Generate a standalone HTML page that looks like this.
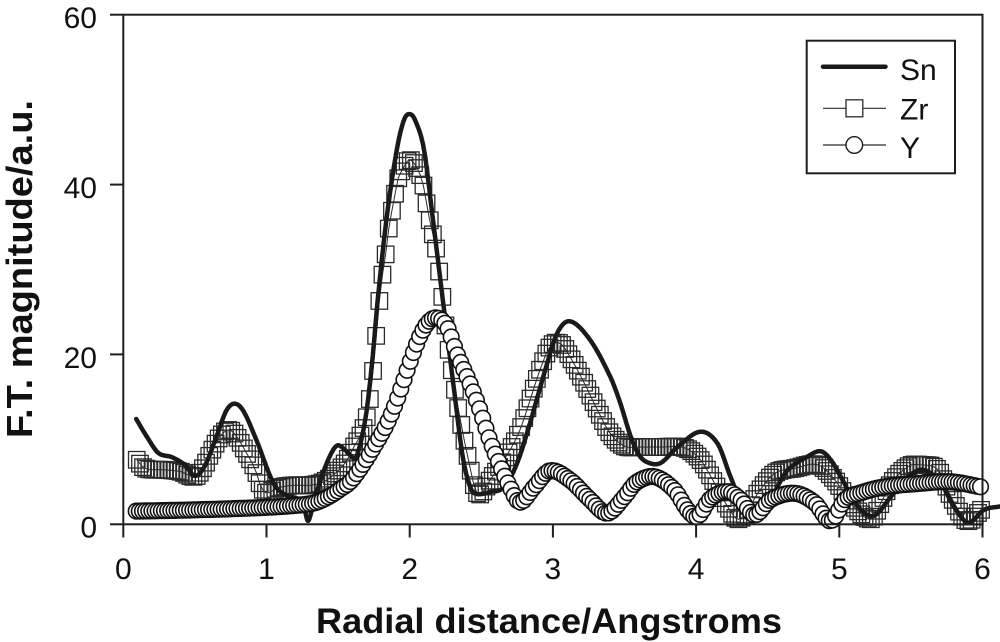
<!DOCTYPE html>
<html><head><meta charset="utf-8">
<style>
html,body{margin:0;padding:0;background:#fff;width:1000px;height:642px;overflow:hidden;}
svg{display:block;}
text{font-family:"Liberation Sans",Arial,sans-serif;fill:#111;}
</style></head>
<body>
<svg id="c" width="1000" height="642" viewBox="0 0 1000 642" xmlns="http://www.w3.org/2000/svg">
<rect x="0" y="0" width="1000" height="642" fill="#fff"/>
<g id="zr"></g>
<g id="sn"></g>
<g id="yy"></g>
<!-- frame -->
<g stroke="#1e1e1e" stroke-width="2" fill="none">
<rect x="123.3" y="14.7" width="859.2" height="509.6"/>
<line x1="110" y1="524.3" x2="123.3" y2="524.3"/>
<line x1="110" y1="354.4" x2="123.3" y2="354.4"/>
<line x1="110" y1="184.6" x2="123.3" y2="184.6"/>
<line x1="110" y1="14.7" x2="123.3" y2="14.7"/>
<line x1="123.3" y1="524.3" x2="123.3" y2="537.5"/>
<line x1="266.5" y1="524.3" x2="266.5" y2="537.5"/>
<line x1="409.7" y1="524.3" x2="409.7" y2="537.5"/>
<line x1="552.9" y1="524.3" x2="552.9" y2="537.5"/>
<line x1="696.1" y1="524.3" x2="696.1" y2="537.5"/>
<line x1="839.3" y1="524.3" x2="839.3" y2="537.5"/>
<line x1="982.5" y1="524.3" x2="982.5" y2="537.5"/>
</g>
<!-- tick labels -->
<g font-size="30" text-anchor="end">
<text x="97" y="537.5">0</text>
<text x="97" y="367.8">20</text>
<text x="97" y="198">40</text>
<text x="97" y="28.2">60</text>
</g>
<g font-size="30" text-anchor="middle">
<text x="123.3" y="579">0</text>
<text x="266.5" y="579">1</text>
<text x="409.7" y="579">2</text>
<text x="552.9" y="579">3</text>
<text x="696.1" y="579">4</text>
<text x="839.3" y="579">5</text>
<text x="982.5" y="579">6</text>
</g>
<!-- axis titles -->
<text x="316" y="633" font-size="35.5" font-weight="bold" textLength="466" lengthAdjust="spacingAndGlyphs">Radial distance/Angstroms</text>
<text transform="translate(32,269) rotate(-90)" text-anchor="middle" font-size="36.5" font-weight="bold" textLength="338" lengthAdjust="spacingAndGlyphs">F.T. magnitude/a.u.</text>
<!-- legend -->
<rect x="806.7" y="40.7" width="148.3" height="132.6" fill="#fff" stroke="#1e1e1e" stroke-width="2"/>
<line x1="823" y1="66.7" x2="885.5" y2="66.7" stroke="#1a1a1a" stroke-width="4.5" stroke-linecap="round"/>
<text x="900" y="80" font-size="30">Sn</text>
<line x1="823" y1="108.3" x2="886" y2="108.3" stroke="#2a2a2a" stroke-width="1.2"/>
<rect x="846" y="99.8" width="16.8" height="17" fill="#fff" stroke="#2a2a2a" stroke-width="1.3"/>
<text x="900" y="119.5" font-size="30">Zr</text>
<line x1="823" y1="145" x2="886" y2="145" stroke="#2a2a2a" stroke-width="1.2"/>
<circle cx="854.3" cy="145" r="8.3" fill="#fff" stroke="#1a1a1a" stroke-width="1.4"/>
<text x="900" y="158" font-size="30">Y</text>
</svg>
<script>
(function(){
var NS="http://www.w3.org/2000/svg";
function px(x){return 123.3+143.2*x;}
function py(y){return 524.3-8.493*y;}
function interp(pts){
 var n=pts.length,xs=[],ys=[],m=[],i;
 for(i=0;i<n;i++){xs.push(pts[i][0]);ys.push(pts[i][1]);}
 for(i=0;i<n;i++){
  if(i===0)m.push((ys[1]-ys[0])/(xs[1]-xs[0]));
  else if(i===n-1)m.push((ys[n-1]-ys[n-2])/(xs[n-1]-xs[n-2]));
  else m.push((ys[i+1]-ys[i-1])/(xs[i+1]-xs[i-1]));
 }
 return function(x){
  if(x<=xs[0])return ys[0];
  if(x>=xs[n-1])return ys[n-1];
  var k=0;while(k<n-2&&x>xs[k+1])k++;
  var h=xs[k+1]-xs[k],t=(x-xs[k])/h,t2=t*t,t3=t2*t;
  return (2*t3-3*t2+1)*ys[k]+(t3-2*t2+t)*h*m[k]+(-2*t3+3*t2)*ys[k+1]+(t3-t2)*h*m[k+1];
 };
}
function el(tag,attrs,parent){var e=document.createElementNS(NS,tag);for(var a in attrs)e.setAttribute(a,attrs[a]);parent.appendChild(e);return e;}

var sn=interp([[0.09,12.4],[0.165,10.3],[0.245,8.4],[0.34,7.9],[0.43,7.0],[0.50,5.7],[0.57,6.9],[0.65,10.3],[0.72,13.4],[0.78,14.2],[0.84,13.3],[0.93,9.9],[1.05,4.8],[1.14,3.4],[1.22,3.0],[1.26,2.2],[1.29,0.4],[1.33,2.6],[1.40,6.3],[1.46,8.6],[1.50,9.3],[1.56,8.6],[1.62,7.8],[1.66,9.8],[1.70,13.5],[1.74,19.5],[1.78,27.0],[1.84,36.2],[1.91,44.1],[1.96,47.6],[2.0,48.3],[2.04,47.5],[2.10,44.1],[2.16,36.2],[2.23,26.6],[2.31,15.8],[2.37,8.0],[2.42,4.5],[2.46,3.6],[2.56,3.8],[2.66,4.4],[2.75,7.2],[2.84,11.9],[2.94,17.8],[3.03,22.5],[3.12,23.9],[3.26,21.7],[3.40,17.4],[3.47,14.3],[3.54,10.5],[3.60,8.2],[3.66,7.3],[3.75,7.2],[3.87,9.1],[4.03,10.9],[4.15,9.5],[4.24,5.6],[4.31,2.9],[4.38,1.5],[4.45,1.3],[4.52,2.8],[4.58,4.8],[4.64,6.4],[4.78,8.0],[4.87,8.6],[4.94,7.6],[5.01,5.6],[5.13,2.1],[5.24,1.0],[5.36,3.25],[5.48,5.6],[5.59,6.4],[5.71,4.8],[5.80,2.1],[5.90,0.2],[6.01,1.7],[6.12,2.1]]);

var zr=interp([[0.094,7.6],[0.15,6.6],[0.30,6.4],[0.40,6.2],[0.50,5.6],[0.56,6.7],[0.61,8.4],[0.67,10.2],[0.73,11.1],[0.78,10.6],[0.86,8.4],[0.92,6.5],[0.96,4.5],[1.0,3.7],[1.08,4.3],[1.20,4.6],[1.30,4.6],[1.40,5.0],[1.50,6.3],[1.56,7.5],[1.61,9.1],[1.66,10.6],[1.70,12.6],[1.73,15.8],[1.76,21],[1.78,25.0],[1.81,29.4],[1.84,32.7],[1.86,35.6],[1.89,38.0],[1.91,40.2],[1.95,41.8],[2.0,42.9],[2.05,42.0],[2.09,40.3],[2.11,38.6],[2.13,36.6],[2.16,34.3],[2.19,31.9],[2.21,29.2],[2.23,26.5],[2.26,22],[2.30,17.5],[2.34,13.5],[2.38,10],[2.42,6.8],[2.45,4.5],[2.48,3.5],[2.52,4.0],[2.56,5.2],[2.61,6.4],[2.70,8.75],[2.77,11.1],[2.84,14.6],[2.91,18.2],[2.98,20.9],[3.05,21.3],[3.12,19.7],[3.22,16.6],[3.31,13.5],[3.40,10.7],[3.50,9.2],[3.60,9.1],[3.75,9.1],[3.92,9.0],[4.03,7.6],[4.13,4.8],[4.22,2.1],[4.29,0.6],[4.36,1.6],[4.43,3.65],[4.55,6.0],[4.69,6.6],[4.85,7.0],[4.97,5.2],[5.08,2.5],[5.22,0.6],[5.29,2.5],[5.36,4.8],[5.48,6.8],[5.57,7.0],[5.69,6.4],[5.78,3.25],[5.89,0.4],[5.99,1.7]]);

var yy=interp([[0.09,1.55],[0.5,1.7],[1.0,2.0],[1.25,2.3],[1.35,2.6],[1.45,3.4],[1.52,4.2],[1.59,5.1],[1.68,7.2],[1.76,9.4],[1.84,11.8],[1.91,14.6],[2.0,19.0],[2.07,22.1],[2.13,23.8],[2.19,24.3],[2.26,23.3],[2.33,20.1],[2.42,16.6],[2.49,13.5],[2.56,9.9],[2.63,7.0],[2.70,4.4],[2.77,2.6],[2.87,4.4],[2.98,6.3],[3.12,5.2],[3.26,2.9],[3.38,1.3],[3.50,3.25],[3.58,4.9],[3.71,5.6],[3.85,4.0],[3.94,1.7],[4.01,0.9],[4.10,3.0],[4.22,3.85],[4.31,2.9],[4.41,1.1],[4.52,2.9],[4.69,3.65],[4.83,2.5],[4.94,0.4],[5.04,2.9],[5.15,3.7],[5.31,4.4],[5.55,4.8],[5.78,5.0],[5.99,4.4]]);

var x,d,pts,i;
// Zr
var gz=document.getElementById("zr");
pts=[];for(x=0.094;x<=6.0001;x+=0.022){pts.push([px(x),py(zr(x))]);}
d="";for(i=0;i<pts.length;i++){d+=(i?"L":"M")+pts[i][0].toFixed(1)+" "+pts[i][1].toFixed(1);}
el("path",{d:d,fill:"none",stroke:"#2a2a2a","stroke-width":"1"},gz);
var s=16.5;
for(i=0;i<pts.length;i++){el("rect",{x:(pts[i][0]-s/2).toFixed(1),y:(pts[i][1]-s/2).toFixed(1),width:s,height:s,fill:"none",stroke:"#2a2a2a","stroke-width":"1.3"},gz);}
// Sn
var gs=document.getElementById("sn");
d="";var first=true;
for(x=0.09;x<=6.12;x+=0.004){d+=(first?"M":"L")+px(x).toFixed(1)+" "+py(sn(x)).toFixed(1);first=false;}
el("path",{d:d,fill:"none",stroke:"#1a1a1a","stroke-width":"4.5","stroke-linejoin":"round","stroke-linecap":"round"},gs);
// Y
var gy=document.getElementById("yy");
pts=[];for(x=0.09;x<=5.9901;x+=0.022){pts.push([px(x),py(yy(x))]);}
d="";for(i=0;i<pts.length;i++){d+=(i?"L":"M")+pts[i][0].toFixed(1)+" "+pts[i][1].toFixed(1);}
el("path",{d:d,fill:"none",stroke:"#2a2a2a","stroke-width":"1"},gy);
for(i=0;i<pts.length;i++){el("circle",{cx:pts[i][0].toFixed(1),cy:pts[i][1].toFixed(1),r:"7.8",fill:"#fff",stroke:"#111","stroke-width":"1.6"},gy);}
})();
</script>
</body></html>
